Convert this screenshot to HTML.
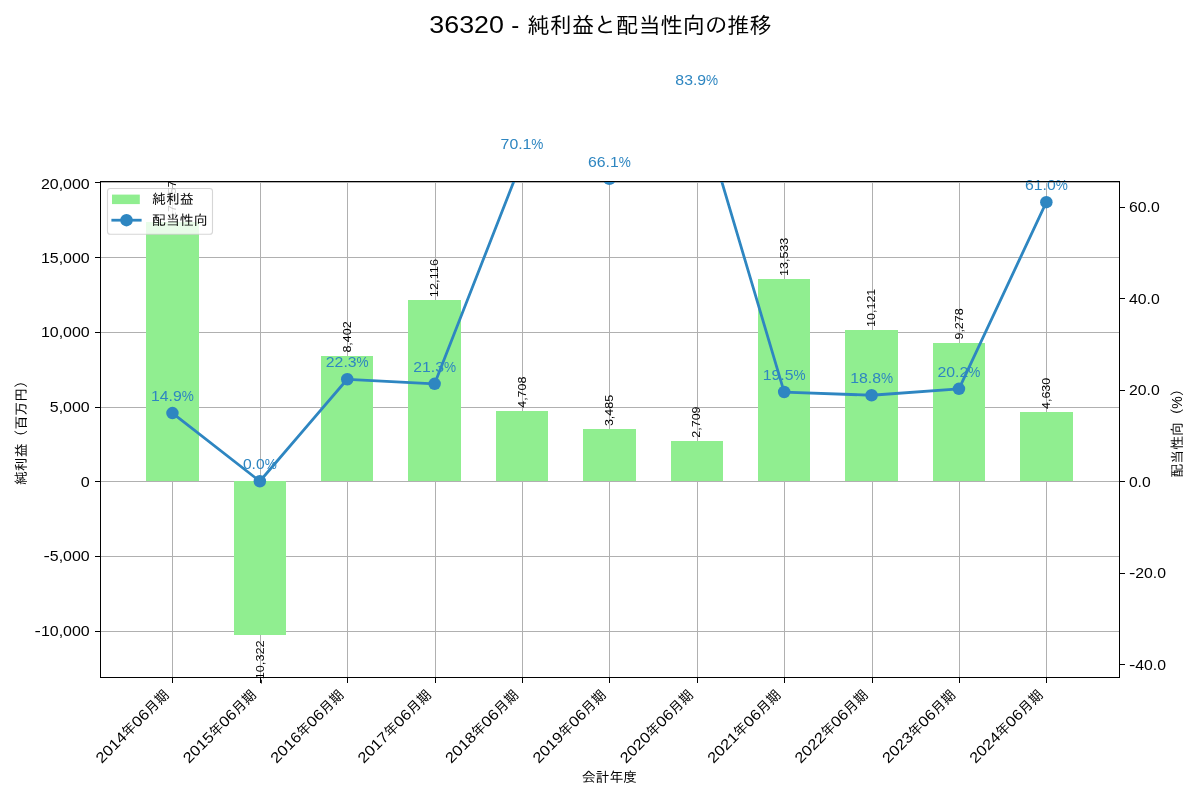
<!DOCTYPE html>
<html lang="ja"><head><meta charset="utf-8"><title>36320 - 純利益と配当性向の推移</title>
<style>html,body{margin:0;padding:0;background:#fff}svg{display:block}text{font-family:"Liberation Sans", "IPAGothic", sans-serif;fill:#000;white-space:pre}.crisp{shape-rendering:crispEdges}</style></head><body>
<svg width="1200" height="800" viewBox="0 0 1200 800">
<rect x="0" y="0" width="1200" height="800" fill="#fff"/>
<g opacity="0.999">
<defs><clipPath id="ax"><rect x="100.5" y="181.5" width="1019.0" height="496.0"/></clipPath></defs>
<g class="crisp" stroke="#b0b0b0" stroke-width="1">
<line x1="172.5" y1="181.5" x2="172.5" y2="677.5"/>
<line x1="260.5" y1="181.5" x2="260.5" y2="677.5"/>
<line x1="347.5" y1="181.5" x2="347.5" y2="677.5"/>
<line x1="435.5" y1="181.5" x2="435.5" y2="677.5"/>
<line x1="522.5" y1="181.5" x2="522.5" y2="677.5"/>
<line x1="609.5" y1="181.5" x2="609.5" y2="677.5"/>
<line x1="697.5" y1="181.5" x2="697.5" y2="677.5"/>
<line x1="784.5" y1="181.5" x2="784.5" y2="677.5"/>
<line x1="872.5" y1="181.5" x2="872.5" y2="677.5"/>
<line x1="959.5" y1="181.5" x2="959.5" y2="677.5"/>
<line x1="1046.5" y1="181.5" x2="1046.5" y2="677.5"/>
<line x1="100.5" y1="631.5" x2="1119.5" y2="631.5"/>
<line x1="100.5" y1="556.5" x2="1119.5" y2="556.5"/>
<line x1="100.5" y1="481.5" x2="1119.5" y2="481.5"/>
<line x1="100.5" y1="407.5" x2="1119.5" y2="407.5"/>
<line x1="100.5" y1="332.5" x2="1119.5" y2="332.5"/>
<line x1="100.5" y1="257.5" x2="1119.5" y2="257.5"/>
<line x1="100.5" y1="182.5" x2="1119.5" y2="182.5"/>
</g>
<g class="crisp" fill="#90ee90">
<rect x="146" y="222" width="53" height="259"/>
<rect x="234" y="481" width="52" height="154"/>
<rect x="321" y="356" width="52" height="125"/>
<rect x="408" y="300" width="53" height="181"/>
<rect x="496" y="411" width="52" height="70"/>
<rect x="583" y="429" width="53" height="52"/>
<rect x="671" y="441" width="52" height="40"/>
<rect x="758" y="279" width="52" height="202"/>
<rect x="845" y="330" width="53" height="151"/>
<rect x="933" y="343" width="52" height="138"/>
<rect x="1020" y="412" width="53" height="69"/>
</g>
<text transform="translate(176.15,218.84) rotate(-90)" font-size="11.11px"><tspan x="0.00" font-size="11.11px" textLength="38.22" lengthAdjust="spacingAndGlyphs">17,357</tspan></text>
<text transform="translate(263.54,640.46) rotate(-90)" font-size="11.11px"><tspan x="-43.88" font-size="11.11px" textLength="5.11" lengthAdjust="spacingAndGlyphs">-</tspan><tspan x="-38.77" font-size="11.11px" textLength="38.77" lengthAdjust="spacingAndGlyphs">10,322</tspan></text>
<text transform="translate(350.93,352.62) rotate(-90)" font-size="11.11px"><tspan x="0.00" font-size="11.11px" textLength="31.22" lengthAdjust="spacingAndGlyphs">8,402</tspan></text>
<text transform="translate(438.32,297.14) rotate(-90)" font-size="11.11px"><tspan x="0.00" font-size="11.11px" textLength="38.22" lengthAdjust="spacingAndGlyphs">12,116</tspan></text>
<text transform="translate(525.71,407.81) rotate(-90)" font-size="11.11px"><tspan x="0.00" font-size="11.11px" textLength="31.22" lengthAdjust="spacingAndGlyphs">4,708</tspan></text>
<text transform="translate(613.10,426.08) rotate(-90)" font-size="11.11px"><tspan x="0.00" font-size="11.11px" textLength="31.22" lengthAdjust="spacingAndGlyphs">3,485</tspan></text>
<text transform="translate(700.49,437.68) rotate(-90)" font-size="11.11px"><tspan x="0.00" font-size="11.11px" textLength="31.22" lengthAdjust="spacingAndGlyphs">2,709</tspan></text>
<text transform="translate(787.88,275.97) rotate(-90)" font-size="11.11px"><tspan x="0.00" font-size="11.11px" textLength="38.22" lengthAdjust="spacingAndGlyphs">13,533</tspan></text>
<text transform="translate(875.27,326.94) rotate(-90)" font-size="11.11px"><tspan x="0.00" font-size="11.11px" textLength="38.22" lengthAdjust="spacingAndGlyphs">10,121</tspan></text>
<text transform="translate(962.66,339.54) rotate(-90)" font-size="11.11px"><tspan x="0.00" font-size="11.11px" textLength="31.22" lengthAdjust="spacingAndGlyphs">9,278</tspan></text>
<text transform="translate(1050.05,408.98) rotate(-90)" font-size="11.11px"><tspan x="0.00" font-size="11.11px" textLength="31.22" lengthAdjust="spacingAndGlyphs">4,630</tspan></text>
<g clip-path="url(#ax)">
<polyline points="172.45,413.08 259.84,481.25 347.23,379.23 434.62,383.80 522.01,160.54 609.40,178.84 696.79,97.41 784.18,392.04 871.57,395.24 958.96,388.83 1046.35,202.18" fill="none" stroke="#2E86C1" stroke-width="2.78" stroke-linejoin="round" stroke-linecap="butt"/>
<circle cx="172.45" cy="413.08" r="6.25" fill="#2E86C1"/>
<circle cx="259.84" cy="481.25" r="6.25" fill="#2E86C1"/>
<circle cx="347.23" cy="379.23" r="6.25" fill="#2E86C1"/>
<circle cx="434.62" cy="383.80" r="6.25" fill="#2E86C1"/>
<circle cx="522.01" cy="160.54" r="6.25" fill="#2E86C1"/>
<circle cx="609.40" cy="178.84" r="6.25" fill="#2E86C1"/>
<circle cx="696.79" cy="97.41" r="6.25" fill="#2E86C1"/>
<circle cx="784.18" cy="392.04" r="6.25" fill="#2E86C1"/>
<circle cx="871.57" cy="395.24" r="6.25" fill="#2E86C1"/>
<circle cx="958.96" cy="388.83" r="6.25" fill="#2E86C1"/>
<circle cx="1046.35" cy="202.18" r="6.25" fill="#2E86C1"/>
</g>
<text transform="translate(172.45,401.08)" font-size="13.89px" style="fill:#2E86C1"><tspan x="-21.43" font-size="14.86px" textLength="30.77" lengthAdjust="spacingAndGlyphs">14.9</tspan><tspan x="9.34" font-size="14.86px" textLength="12.08" lengthAdjust="spacingAndGlyphs">%</tspan></text>
<text transform="translate(259.84,469.25)" font-size="13.89px" style="fill:#2E86C1"><tspan x="-16.95" font-size="14.86px" textLength="21.81" lengthAdjust="spacingAndGlyphs">0.0</tspan><tspan x="4.86" font-size="14.86px" textLength="12.08" lengthAdjust="spacingAndGlyphs">%</tspan></text>
<text transform="translate(347.23,367.23)" font-size="13.89px" style="fill:#2E86C1"><tspan x="-21.43" font-size="14.86px" textLength="30.77" lengthAdjust="spacingAndGlyphs">22.3</tspan><tspan x="9.34" font-size="14.86px" textLength="12.08" lengthAdjust="spacingAndGlyphs">%</tspan></text>
<text transform="translate(434.62,371.80)" font-size="13.89px" style="fill:#2E86C1"><tspan x="-21.43" font-size="14.86px" textLength="30.77" lengthAdjust="spacingAndGlyphs">21.3</tspan><tspan x="9.34" font-size="14.86px" textLength="12.08" lengthAdjust="spacingAndGlyphs">%</tspan></text>
<text transform="translate(522.01,148.54)" font-size="13.89px" style="fill:#2E86C1"><tspan x="-21.43" font-size="14.86px" textLength="30.77" lengthAdjust="spacingAndGlyphs">70.1</tspan><tspan x="9.34" font-size="14.86px" textLength="12.08" lengthAdjust="spacingAndGlyphs">%</tspan></text>
<text transform="translate(609.40,166.84)" font-size="13.89px" style="fill:#2E86C1"><tspan x="-21.43" font-size="14.86px" textLength="30.77" lengthAdjust="spacingAndGlyphs">66.1</tspan><tspan x="9.34" font-size="14.86px" textLength="12.08" lengthAdjust="spacingAndGlyphs">%</tspan></text>
<text transform="translate(696.79,85.41)" font-size="13.89px" style="fill:#2E86C1"><tspan x="-21.43" font-size="14.86px" textLength="30.77" lengthAdjust="spacingAndGlyphs">83.9</tspan><tspan x="9.34" font-size="14.86px" textLength="12.08" lengthAdjust="spacingAndGlyphs">%</tspan></text>
<text transform="translate(784.18,380.04)" font-size="13.89px" style="fill:#2E86C1"><tspan x="-21.43" font-size="14.86px" textLength="30.77" lengthAdjust="spacingAndGlyphs">19.5</tspan><tspan x="9.34" font-size="14.86px" textLength="12.08" lengthAdjust="spacingAndGlyphs">%</tspan></text>
<text transform="translate(871.57,383.24)" font-size="13.89px" style="fill:#2E86C1"><tspan x="-21.43" font-size="14.86px" textLength="30.77" lengthAdjust="spacingAndGlyphs">18.8</tspan><tspan x="9.34" font-size="14.86px" textLength="12.08" lengthAdjust="spacingAndGlyphs">%</tspan></text>
<text transform="translate(958.96,376.83)" font-size="13.89px" style="fill:#2E86C1"><tspan x="-21.43" font-size="14.86px" textLength="30.77" lengthAdjust="spacingAndGlyphs">20.2</tspan><tspan x="9.34" font-size="14.86px" textLength="12.08" lengthAdjust="spacingAndGlyphs">%</tspan></text>
<text transform="translate(1046.35,190.18)" font-size="13.89px" style="fill:#2E86C1"><tspan x="-21.43" font-size="14.86px" textLength="30.77" lengthAdjust="spacingAndGlyphs">61.0</tspan><tspan x="9.34" font-size="14.86px" textLength="12.08" lengthAdjust="spacingAndGlyphs">%</tspan></text>
<rect x="107.5" y="188.5" width="105" height="45.8" rx="2.8" ry="2.8" fill="#fff" fill-opacity="0.8" stroke="#ccc" stroke-opacity="0.8" stroke-width="1.1"/>
<rect x="112" y="194.6" width="27.8" height="9.5" fill="#90ee90"/>
<line x1="111.4" y1="220.2" x2="141.6" y2="220.2" stroke="#2E86C1" stroke-width="2.78"/>
<circle cx="126.5" cy="220.2" r="6.25" fill="#2E86C1"/>
<text transform="translate(152.00,203.80)" font-size="13.89px"><tspan x="0.00">純利益</tspan></text>
<text transform="translate(152.00,225.00)" font-size="13.89px"><tspan x="0.00">配当性向</tspan></text>
<g class="crisp" stroke="#000" stroke-width="1" fill="none">
<rect x="100.5" y="181.5" width="1019.0" height="496.0"/>
<line x1="172.5" y1="677.5" x2="172.5" y2="682.9"/>
<line x1="260.5" y1="677.5" x2="260.5" y2="682.9"/>
<line x1="347.5" y1="677.5" x2="347.5" y2="682.9"/>
<line x1="435.5" y1="677.5" x2="435.5" y2="682.9"/>
<line x1="522.5" y1="677.5" x2="522.5" y2="682.9"/>
<line x1="609.5" y1="677.5" x2="609.5" y2="682.9"/>
<line x1="697.5" y1="677.5" x2="697.5" y2="682.9"/>
<line x1="784.5" y1="677.5" x2="784.5" y2="682.9"/>
<line x1="872.5" y1="677.5" x2="872.5" y2="682.9"/>
<line x1="959.5" y1="677.5" x2="959.5" y2="682.9"/>
<line x1="1046.5" y1="677.5" x2="1046.5" y2="682.9"/>
<line x1="95.1" y1="631.5" x2="100.5" y2="631.5"/>
<line x1="95.1" y1="556.5" x2="100.5" y2="556.5"/>
<line x1="95.1" y1="481.5" x2="100.5" y2="481.5"/>
<line x1="95.1" y1="407.5" x2="100.5" y2="407.5"/>
<line x1="95.1" y1="332.5" x2="100.5" y2="332.5"/>
<line x1="95.1" y1="257.5" x2="100.5" y2="257.5"/>
<line x1="95.1" y1="182.5" x2="100.5" y2="182.5"/>
<line x1="1119.5" y1="664.5" x2="1124.9" y2="664.5"/>
<line x1="1119.5" y1="573.5" x2="1124.9" y2="573.5"/>
<line x1="1119.5" y1="481.5" x2="1124.9" y2="481.5"/>
<line x1="1119.5" y1="390.5" x2="1124.9" y2="390.5"/>
<line x1="1119.5" y1="298.5" x2="1124.9" y2="298.5"/>
<line x1="1119.5" y1="207.5" x2="1124.9" y2="207.5"/>
</g>
<text transform="translate(89.70,636.00)" font-size="13.89px"><tspan x="-55.21" font-size="14.86px" textLength="6.39" lengthAdjust="spacingAndGlyphs">-</tspan><tspan x="-48.82" font-size="14.86px" textLength="48.82" lengthAdjust="spacingAndGlyphs">10,000</tspan></text>
<text transform="translate(89.70,561.00)" font-size="13.89px"><tspan x="-46.25" font-size="14.86px" textLength="6.39" lengthAdjust="spacingAndGlyphs">-</tspan><tspan x="-39.86" font-size="14.86px" textLength="39.86" lengthAdjust="spacingAndGlyphs">5,000</tspan></text>
<text transform="translate(89.70,487.00)" font-size="13.89px"><tspan x="-8.96" font-size="14.86px" textLength="8.96" lengthAdjust="spacingAndGlyphs">0</tspan></text>
<text transform="translate(89.70,412.00)" font-size="13.89px"><tspan x="-39.86" font-size="14.86px" textLength="39.86" lengthAdjust="spacingAndGlyphs">5,000</tspan></text>
<text transform="translate(89.70,337.00)" font-size="13.89px"><tspan x="-48.82" font-size="14.86px" textLength="48.82" lengthAdjust="spacingAndGlyphs">10,000</tspan></text>
<text transform="translate(89.70,263.00)" font-size="13.89px"><tspan x="-48.82" font-size="14.86px" textLength="48.82" lengthAdjust="spacingAndGlyphs">15,000</tspan></text>
<text transform="translate(89.70,189.00)" font-size="13.89px"><tspan x="-48.82" font-size="14.86px" textLength="48.82" lengthAdjust="spacingAndGlyphs">20,000</tspan></text>
<text transform="translate(1128.90,669.80)" font-size="13.89px"><tspan x="0.00" font-size="14.86px" textLength="6.39" lengthAdjust="spacingAndGlyphs">-</tspan><tspan x="6.39" font-size="14.86px" textLength="30.77" lengthAdjust="spacingAndGlyphs">40.0</tspan></text>
<text transform="translate(1128.90,577.80)" font-size="13.89px"><tspan x="0.00" font-size="14.86px" textLength="6.39" lengthAdjust="spacingAndGlyphs">-</tspan><tspan x="6.39" font-size="14.86px" textLength="30.77" lengthAdjust="spacingAndGlyphs">20.0</tspan></text>
<text transform="translate(1128.90,486.60)" font-size="13.89px"><tspan x="0.00" font-size="14.86px" textLength="21.81" lengthAdjust="spacingAndGlyphs">0.0</tspan></text>
<text transform="translate(1128.90,395.00)" font-size="13.89px"><tspan x="0.00" font-size="14.86px" textLength="30.77" lengthAdjust="spacingAndGlyphs">20.0</tspan></text>
<text transform="translate(1128.90,303.60)" font-size="13.89px"><tspan x="0.00" font-size="14.86px" textLength="30.77" lengthAdjust="spacingAndGlyphs">40.0</tspan></text>
<text transform="translate(1128.90,212.00)" font-size="13.89px"><tspan x="0.00" font-size="14.86px" textLength="30.77" lengthAdjust="spacingAndGlyphs">60.0</tspan></text>
<text transform="translate(170.05,695.60) rotate(-45)" font-size="13.89px"><tspan x="-96.67" font-size="14.86px" textLength="36.67" lengthAdjust="spacingAndGlyphs">2014</tspan><tspan x="-60.00">年</tspan><tspan x="-46.11" font-size="14.86px" textLength="18.33" lengthAdjust="spacingAndGlyphs">06</tspan><tspan x="-27.78">月期</tspan></text>
<text transform="translate(257.44,695.60) rotate(-45)" font-size="13.89px"><tspan x="-96.67" font-size="14.86px" textLength="36.67" lengthAdjust="spacingAndGlyphs">2015</tspan><tspan x="-60.00">年</tspan><tspan x="-46.11" font-size="14.86px" textLength="18.33" lengthAdjust="spacingAndGlyphs">06</tspan><tspan x="-27.78">月期</tspan></text>
<text transform="translate(344.83,695.60) rotate(-45)" font-size="13.89px"><tspan x="-96.67" font-size="14.86px" textLength="36.67" lengthAdjust="spacingAndGlyphs">2016</tspan><tspan x="-60.00">年</tspan><tspan x="-46.11" font-size="14.86px" textLength="18.33" lengthAdjust="spacingAndGlyphs">06</tspan><tspan x="-27.78">月期</tspan></text>
<text transform="translate(432.22,695.60) rotate(-45)" font-size="13.89px"><tspan x="-96.67" font-size="14.86px" textLength="36.67" lengthAdjust="spacingAndGlyphs">2017</tspan><tspan x="-60.00">年</tspan><tspan x="-46.11" font-size="14.86px" textLength="18.33" lengthAdjust="spacingAndGlyphs">06</tspan><tspan x="-27.78">月期</tspan></text>
<text transform="translate(519.61,695.60) rotate(-45)" font-size="13.89px"><tspan x="-96.67" font-size="14.86px" textLength="36.67" lengthAdjust="spacingAndGlyphs">2018</tspan><tspan x="-60.00">年</tspan><tspan x="-46.11" font-size="14.86px" textLength="18.33" lengthAdjust="spacingAndGlyphs">06</tspan><tspan x="-27.78">月期</tspan></text>
<text transform="translate(607.00,695.60) rotate(-45)" font-size="13.89px"><tspan x="-96.67" font-size="14.86px" textLength="36.67" lengthAdjust="spacingAndGlyphs">2019</tspan><tspan x="-60.00">年</tspan><tspan x="-46.11" font-size="14.86px" textLength="18.33" lengthAdjust="spacingAndGlyphs">06</tspan><tspan x="-27.78">月期</tspan></text>
<text transform="translate(694.39,695.60) rotate(-45)" font-size="13.89px"><tspan x="-96.67" font-size="14.86px" textLength="36.67" lengthAdjust="spacingAndGlyphs">2020</tspan><tspan x="-60.00">年</tspan><tspan x="-46.11" font-size="14.86px" textLength="18.33" lengthAdjust="spacingAndGlyphs">06</tspan><tspan x="-27.78">月期</tspan></text>
<text transform="translate(781.78,695.60) rotate(-45)" font-size="13.89px"><tspan x="-96.67" font-size="14.86px" textLength="36.67" lengthAdjust="spacingAndGlyphs">2021</tspan><tspan x="-60.00">年</tspan><tspan x="-46.11" font-size="14.86px" textLength="18.33" lengthAdjust="spacingAndGlyphs">06</tspan><tspan x="-27.78">月期</tspan></text>
<text transform="translate(869.17,695.60) rotate(-45)" font-size="13.89px"><tspan x="-96.67" font-size="14.86px" textLength="36.67" lengthAdjust="spacingAndGlyphs">2022</tspan><tspan x="-60.00">年</tspan><tspan x="-46.11" font-size="14.86px" textLength="18.33" lengthAdjust="spacingAndGlyphs">06</tspan><tspan x="-27.78">月期</tspan></text>
<text transform="translate(956.56,695.60) rotate(-45)" font-size="13.89px"><tspan x="-96.67" font-size="14.86px" textLength="36.67" lengthAdjust="spacingAndGlyphs">2023</tspan><tspan x="-60.00">年</tspan><tspan x="-46.11" font-size="14.86px" textLength="18.33" lengthAdjust="spacingAndGlyphs">06</tspan><tspan x="-27.78">月期</tspan></text>
<text transform="translate(1043.95,695.60) rotate(-45)" font-size="13.89px"><tspan x="-96.67" font-size="14.86px" textLength="36.67" lengthAdjust="spacingAndGlyphs">2024</tspan><tspan x="-60.00">年</tspan><tspan x="-46.11" font-size="14.86px" textLength="18.33" lengthAdjust="spacingAndGlyphs">06</tspan><tspan x="-27.78">月期</tspan></text>
<text transform="translate(609.50,782.00)" font-size="13.89px"><tspan x="-27.78">会計年度</tspan></text>
<text transform="translate(25.80,429.50) rotate(-90)" font-size="13.89px"><tspan x="-55.56">純利益（百万円）</tspan></text>
<text transform="translate(1181.7,429.5) rotate(-90)" font-size="13.89px"><tspan x="-48.05">配当性向（</tspan><tspan x="20.8" font-size="14.86px" textLength="12.4" lengthAdjust="spacingAndGlyphs">%</tspan><tspan x="33.3">）</tspan></text>
<text font-size="22.22px" y="33"><tspan x="429.3" font-size="23.78px" textLength="74.7" lengthAdjust="spacingAndGlyphs">36320</tspan> <tspan x="511.3" font-size="23.78px" textLength="8.0" lengthAdjust="spacingAndGlyphs">-</tspan> <tspan x="527.3">純利益と配当性向の推移</tspan></text>
</g>
</svg></body></html>
